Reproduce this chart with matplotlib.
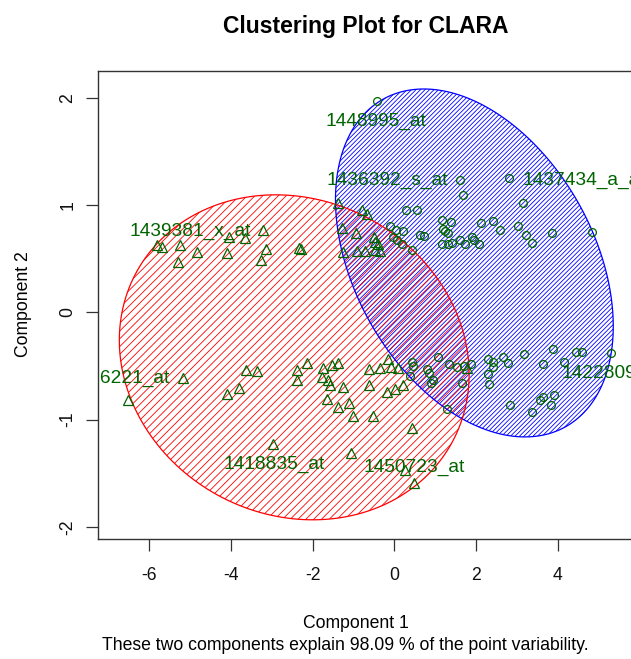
import numpy as np
import matplotlib
matplotlib.use("Agg")
import matplotlib.pyplot as plt
from matplotlib.patches import Polygon
from matplotlib.collections import LineCollection

# cluster 1 (triangles) - first two principal components
c1_x = [-5.82, -5.69, -5.25, -5.30, -4.84, -4.10, -4.04, -3.65, -3.22, -3.14, -3.26, -2.33, -2.29,
        -1.37, -0.78, -0.68, -1.29, -0.94, -0.49, -0.47, -0.39, -1.25, -0.92, -0.72, -0.47, -0.35,
        -6.51, -5.17, -3.63, -3.35, -4.10, -3.80, -2.96,
        -2.39, -2.37, -2.13, -1.74, -1.76, -1.53, -1.37, -1.62, -1.57, -1.25, -1.64, -1.37, -1.10,
        -1.00, -1.07, -0.61, -0.35, -0.15, -0.09, 0.10, -0.61, -0.19, 0.02, 0.21, -0.51, 0.43,
        0.26, 0.48, 1.77]
c1_y = [0.63, 0.61, 0.63, 0.47, 0.56, 0.55, 0.70, 0.69, 0.77, 0.59, 0.49, 0.60, 0.59,
        1.02, 0.95, 0.92, 0.79, 0.74, 0.70, 0.66, 0.64, 0.56, 0.57, 0.57, 0.58, 0.57,
        -0.82, -0.61, -0.54, -0.55, -0.76, -0.71, -1.23,
        -0.54, -0.63, -0.47, -0.52, -0.60, -0.49, -0.47, -0.63, -0.68, -0.70, -0.81, -0.88, -0.85,
        -0.97, -1.31, -0.53, -0.52, -0.44, -0.51, -0.52, -0.68, -0.74, -0.72, -0.68, -0.97, -1.08,
        -1.47, -1.59, -0.52]

# cluster 2 (circles)
c2_x = [-0.42, 1.61, 1.69, 2.81, 3.14, 0.29, 0.55, 1.16, 1.39, 1.18, 1.24, 1.32,
        2.12, 2.41, 2.59, 3.04, 3.22, 3.36, 3.85, 4.83, 1.16, 1.31, 1.42, 1.61, 1.73,
        1.89, 1.96, 2.07, -0.11, 0.04, 0.22, -0.02, 0.06, 0.18, 0.44, 0.63, 0.73,
        0.43, 0.45, 0.38, 0.79, 0.86, 0.95, 0.89, 1.06, 1.34, 1.53, 1.71, 1.88, 1.65,
        1.28, 2.30, 2.42, 2.42, 2.65, 2.78, 2.30, 2.32, 3.18, 3.63, 3.89, 4.16, 4.45,
        4.60, 5.30, 2.83, 3.36, 3.57, 3.63, 3.92, 3.83]
c2_y = [1.97, 1.23, 1.09, 1.25, 1.02, 0.95, 0.95, 0.86, 0.84, 0.78, 0.76, 0.74,
        0.83, 0.85, 0.77, 0.80, 0.72, 0.65, 0.74, 0.75, 0.64, 0.64, 0.65, 0.67, 0.64,
        0.70, 0.67, 0.64, 0.80, 0.77, 0.76, 0.70, 0.67, 0.64, 0.58, 0.72, 0.71,
        -0.46, -0.50, -0.59, -0.53, -0.57, -0.63, -0.66, -0.42, -0.48, -0.51, -0.50, -0.48, -0.66,
        -0.90, -0.44, -0.46, -0.51, -0.42, -0.47, -0.58, -0.67, -0.39, -0.48, -0.34, -0.46, -0.37,
        -0.37, -0.38, -0.86, -0.93, -0.82, -0.79, -0.77, -0.86]

# spanning ellipses: centre and shape matrix for each cluster
ell_center = [(-2.45, -0.42), (1.96, 0.46)]
ell_shape = [[[18.33, -0.685], [-0.685, 2.296]],
             [[11.56, -2.009], [-2.009, 2.632]]]
ell_color = ["#FF0000", "#0000FF"]
ell_spacing = [7.8, 4.5]   # hatch spacing in pixels

# labelled points
label_text = ["1448995_at", "1436392_s_at", "1437434_a_at", "1439381_x_at",
              "1416221_at", "1418835_at", "1450723_at", "1422809_at"]
label_x = [-0.44, 1.31, 3.15, -4.99, -5.49, -2.95, 0.49, 4.10]
label_y = [1.78, 1.23, 1.23, 0.75, -0.62, -1.42, -1.45, -0.57]
label_align = ["center", "right", "left", "center", "right", "center", "center", "left"]

W, H = 631, 659
green = "#006400"
plt.rcParams["font.family"] = ["Liberation Sans", "DejaVu Sans"]
plt.rcParams["axes.unicode_minus"] = False

fig = plt.figure(figsize=(W / 100, H / 100), dpi=100)
ax = fig.add_axes([98.3 / W, 1 - 539.3 / H, (633 - 98.3) / W, (539.3 - 71) / H])
ax.set_xlim(-7.246, 5.843)
ax.set_ylim(-2.117, 2.25)

for sp in ax.spines.values():
    sp.set_color("#333333")
    sp.set_linewidth(1.0)

ax.set_xticks([-6, -4, -2, 0, 2, 4])
ax.set_yticks([-2, -1, 0, 1, 2])
ax.tick_params(axis="both", direction="out", length=8.8, width=0.9, color="#333333",
               labelsize=12.7, labelcolor="#111111")
ax.tick_params(axis="x", pad=11)
ax.tick_params(axis="y", pad=7, labelrotation=90)
for lab in ax.get_yticklabels():
    lab.set_va("center")


def ellipse_outline(center, shape, n=200):
    t = np.linspace(0, 2 * np.pi, n)
    L = np.linalg.cholesky(np.array(shape))
    pts = (L @ np.vstack([np.cos(t), np.sin(t)])).T
    return pts + np.array(center)


def hatch_ellipse(ax, xy, color, spacing):
    patch = Polygon(xy, closed=True, fill=False, edgecolor=color, lw=0.9, zorder=2)
    ax.add_patch(patch)
    disp = ax.transData.transform(xy)
    x0, y0 = disp.min(axis=0)
    x1, y1 = disp.max(axis=0)
    inv = ax.transData.inverted()
    segs = []
    for c in np.arange(y0 - x1, y1 - x0, spacing):
        seg = np.array([[x0, x0 + c], [x1, x1 + c]])
        segs.append(inv.transform(seg))
    lc = LineCollection(segs, colors=color, linewidths=0.6, zorder=1)
    lc.set_clip_path(patch)
    ax.add_collection(lc)


# blue first so the red shading sits on top in the overlap
for i in [1, 0]:
    xy = ellipse_outline(ell_center[i], ell_shape[i])
    hatch_ellipse(ax, xy, ell_color[i], ell_spacing[i])

ax.plot(c1_x, c1_y, linestyle="none", marker="^", ms=7.2, mfc="none",
        mec=green, mew=0.9, zorder=3)
ax.plot(c2_x, c2_y, linestyle="none", marker="o", ms=5.6, mfc="none",
        mec=green, mew=0.9, zorder=3)

for txt, x, y, ha in zip(label_text, label_x, label_y, label_align):
    ax.text(x, y, txt, color=green, fontsize=13.8, ha=ha, va="center",
            clip_on=True, zorder=4)

fig.text(366 / W, 1 - 26 / H, "Clustering Plot for CLARA", fontsize=16.5,
         fontweight="bold", ha="center", va="center")
fig.text(355.8 / W, 1 - 624 / H, "Component 1", fontsize=12.7, ha="center", va="center")
fig.text(23.3 / W, 1 - 304 / H, "Component 2", fontsize=12.7, rotation=90,
         ha="center", va="center")
fig.text(345.5 / W, 1 - 646 / H,
         "These two components explain 98.09 % of the point variability.",
         fontsize=12.7, ha="center", va="center")

fig.savefig("out.png", dpi=100)
